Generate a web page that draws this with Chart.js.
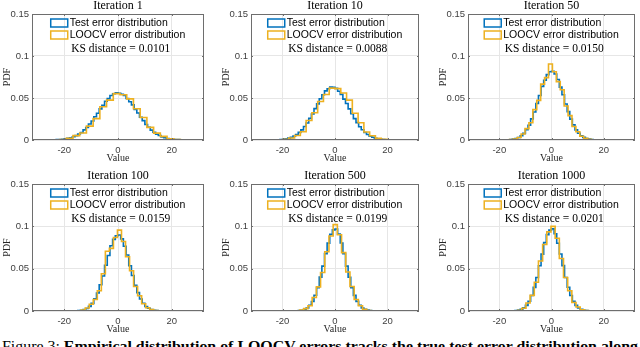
<!DOCTYPE html>
<html>
<head>
<meta charset="utf-8">
<script src="https://cdn.jsdelivr.net/npm/chart.js@4.4.1/dist/chart.umd.min.js"></script>
<style>
body { margin: 0; width: 640px; height: 347px; overflow: hidden; background: #fff; position: relative; }
canvas { position: absolute; }
#caption { position: absolute; left: 2px; top: 340px; font-family: "Liberation Serif", serif; font-size: 14px; line-height: 14px; white-space: nowrap; color: #000; transform-origin: 0 0; }
</style>
</head>
<body>
<canvas id="p1" width="209" height="166" style="left:0px;top:0px"></canvas>
<canvas id="p2" width="205" height="166" style="left:219px;top:0px"></canvas>
<canvas id="p3" width="204" height="166" style="left:436px;top:0px"></canvas>
<canvas id="p4" width="209" height="167" style="left:0px;top:170px"></canvas>
<canvas id="p5" width="205" height="167" style="left:219px;top:170px"></canvas>
<canvas id="p6" width="204" height="167" style="left:436px;top:170px"></canvas>
<div id="caption">Figure 3: <b>Empirical distribution of LOOCV errors tracks the true test error distribution along</b></div>
<script>
const titles = ['Iteration 1', 'Iteration 10', 'Iteration 50', 'Iteration 100', 'Iteration 500', 'Iteration 1000'];
const ksDistances = ['0.0101', '0.0088', '0.0150', '0.0159', '0.0199', '0.0201'];
const seriesNames = ['Test error distribution', 'LOOCV error distribution'];
const xTicks = [-20, 0, 20];
const yTicks = [0, 0.05, 0.1, 0.15];

// first bin edge and bin width of each histogram
const testStart = [-30, -27, -20, -20, -20, -20];
const testWidth = [1, 1, 1, 1, 1, 1];
const loocvStart = [-26.75, -24.2, -17.65, -16.7, -16.7, -16.2];
const loocvWidth = [2.5, 2.2, 1.5, 1.5, 1.6, 1.6];

const testPdf1 = [0, 0, 0.0001, 0.0001, 0.0001, 0.0002, 0.0003, 0.0004, 0.0006, 0.0009,
    0.0013, 0.0020, 0.0027, 0.0039, 0.0052, 0.0071, 0.0090, 0.0121, 0.0149, 0.0190,
    0.0226, 0.0276, 0.0318, 0.0371, 0.0412, 0.0461, 0.0493, 0.0530, 0.0551, 0.0562,
    0.0557, 0.0545, 0.0529, 0.0494, 0.0455, 0.0418, 0.0365, 0.0322, 0.0270, 0.0231,
    0.0185, 0.0152, 0.0117, 0.0093, 0.0069, 0.0053, 0.0037, 0.0027, 0.0018, 0.0013,
    0.0009, 0.0006, 0.0004, 0.0002, 0.0001, 0.0001, 0.0001, 0, 0];
const loocvPdf1 = [0.0001, 0.0002, 0.0005, 0.0019, 0.0052, 0.0083, 0.0165, 0.0255, 0.0395, 0.0475,
    0.0552, 0.0538, 0.0490, 0.0372, 0.0268, 0.0150, 0.0082, 0.0043, 0.0014, 0.0006, 0.0002];

const testPdf2 = [0, 0, 0.0001, 0.0001, 0.0002, 0.0003, 0.0005, 0.0009, 0.0014, 0.0022,
    0.0031, 0.0047, 0.0064, 0.0091, 0.0120, 0.0161, 0.0203, 0.0258, 0.0310, 0.0374,
    0.0430, 0.0491, 0.0538, 0.0585, 0.0611, 0.0630, 0.0628, 0.0615, 0.0580, 0.0543,
    0.0487, 0.0434, 0.0370, 0.0313, 0.0254, 0.0207, 0.0157, 0.0122, 0.0089, 0.0066,
    0.0045, 0.0032, 0.0021, 0.0014, 0.0009, 0.0005, 0.0003, 0.0002, 0.0001, 0.0001, 0];
const loocvPdf2 = [0, 0.0003, 0.0007, 0.0024, 0.0053, 0.0098, 0.0232, 0.0325, 0.0458, 0.0542,
    0.0618, 0.0612, 0.0560, 0.0475, 0.0318, 0.0205, 0.0095, 0.0050, 0.0019, 0.0007, 0.0002, 0];

const testPdf3 = [0, 0.0001, 0.0001, 0.0003, 0.0005, 0.0010, 0.0018, 0.0029, 0.0051, 0.0079,
    0.0124, 0.0176, 0.0252, 0.0333, 0.0435, 0.0530, 0.0638, 0.0712, 0.0778, 0.0812,
    0.0818, 0.0785, 0.0720, 0.0630, 0.0538, 0.0429, 0.0338, 0.0248, 0.0180, 0.0121,
    0.0081, 0.0049, 0.0031, 0.0017, 0.0010, 0.0005, 0.0003, 0.0001, 0.0001, 0, 0, 0];
const loocvPdf3 = [0.0001, 0.0004, 0.0012, 0.0030, 0.0072, 0.0135, 0.0205, 0.0362, 0.0472, 0.0665,
    0.0742, 0.0905, 0.0812, 0.0695, 0.0598, 0.0405, 0.0290, 0.0160, 0.0098, 0.0044,
    0.0021, 0.0008, 0.0002];

const testPdf4 = [0, 0, 0, 0.0001, 0.0002, 0.0004, 0.0009, 0.0018, 0.0030, 0.0055,
    0.0090, 0.0145, 0.0212, 0.0310, 0.0414, 0.0541, 0.0655, 0.0770, 0.0846, 0.0889,
    0.0898, 0.0852, 0.0765, 0.0662, 0.0535, 0.0419, 0.0305, 0.0217, 0.0141, 0.0092,
    0.0053, 0.0032, 0.0017, 0.0009, 0.0004, 0.0002, 0.0001, 0, 0, 0, 0];
const loocvPdf4 = [0, 0.0003, 0.0010, 0.0035, 0.0080, 0.0135, 0.0240, 0.0440, 0.0705, 0.0740,
    0.0868, 0.0955, 0.0820, 0.0640, 0.0475, 0.0290, 0.0180, 0.0085, 0.0038, 0.0018,
    0.0005, 0.0001];

const testPdf5 = [0, 0, 0, 0, 0.0001, 0.0002, 0.0005, 0.0009, 0.0020, 0.0036,
    0.0068, 0.0113, 0.0186, 0.0275, 0.0400, 0.0530, 0.0678, 0.0802, 0.0905, 0.0958,
    0.0968, 0.0910, 0.0803, 0.0678, 0.0530, 0.0399, 0.0276, 0.0185, 0.0114, 0.0068,
    0.0036, 0.0019, 0.0010, 0.0004, 0.0002, 0.0001, 0, 0, 0];
const loocvPdf5 = [0, 0.0002, 0.0010, 0.0028, 0.0062, 0.0160, 0.0285, 0.0455, 0.0700, 0.0885,
    0.1020, 0.0900, 0.0690, 0.0460, 0.0290, 0.0135, 0.0062, 0.0020, 0.0006, 0.0001];

const testPdf6 = [0, 0, 0, 0, 0.0001, 0.0002, 0.0004, 0.0010, 0.0019, 0.0037,
    0.0066, 0.0116, 0.0183, 0.0279, 0.0395, 0.0535, 0.0672, 0.0808, 0.0902, 0.0955,
    0.0970, 0.0912, 0.0800, 0.0673, 0.0536, 0.0396, 0.0280, 0.0183, 0.0116, 0.0067,
    0.0037, 0.0019, 0.0009, 0.0005, 0.0002, 0.0001, 0, 0, 0, 0];
const loocvPdf6 = [0, 0.0003, 0.0008, 0.0032, 0.0095, 0.0185, 0.0340, 0.0590, 0.0785, 0.0935,
    0.1000, 0.0860, 0.0620, 0.0395, 0.0240, 0.0100, 0.0048, 0.0014, 0.0004, 0.0001];

const testPdfs = [testPdf1, testPdf2, testPdf3, testPdf4, testPdf5, testPdf6];
const loocvPdfs = [loocvPdf1, loocvPdf2, loocvPdf3, loocvPdf4, loocvPdf5, loocvPdf6];

const sansFont = '"Liberation Sans", Arial, sans-serif';
const serifFont = '"Liberation Serif", "Times New Roman", serif';

// histogram outline drawn as stairs, like MATLAB DisplayStyle 'stairs'
function stairs(start, width, values) {
    const points = [{ x: start, y: 0 }];
    values.forEach((v, i) => points.push({ x: start + i * width, y: v }));
    points.push({ x: start + values.length * width, y: 0 });
    return points;
}

// LaTeX text is wider than Times, so stretch it to the measured width
function wideText(ctx, text, x, y, targetW) {
    const w = ctx.measureText(text).width;
    ctx.save();
    ctx.translate(x, y);
    ctx.scale(targetW / w, 1);
    ctx.fillText(text, 0, 0);
    ctx.restore();
}

const matlabLook = {
    id: 'matlabLook',
    afterDatasetsDraw(chart) {
        const { ctx, chartArea: a, scales } = chart;
        ctx.save();
        ctx.strokeStyle = '#6e6e6e';
        ctx.lineWidth = 1;
        ctx.strokeRect(a.left + 0.5, a.top + 0.5, a.width - 1, a.height - 1);
        ctx.beginPath();
        xTicks.forEach(v => {
            const px = Math.round(scales.x.getPixelForValue(v)) + 0.5;
            ctx.moveTo(px, a.bottom); ctx.lineTo(px, a.bottom - 2);
            ctx.moveTo(px, a.top); ctx.lineTo(px, a.top + 2);
        });
        yTicks.forEach(v => {
            const py = Math.round(scales.y.getPixelForValue(v)) + 0.5;
            ctx.moveTo(a.left, py); ctx.lineTo(a.left + 2, py);
            ctx.moveTo(a.right, py); ctx.lineTo(a.right - 2, py);
        });
        ctx.stroke();
        ctx.restore();
    },
    afterDraw(chart, args, opts) {
        const { ctx, chartArea: a } = chart;
        const mid = (a.left + a.right) / 2;
        ctx.save();
        ctx.fillStyle = '#000';
        ctx.textAlign = 'center';
        ctx.textBaseline = 'alphabetic';
        ctx.font = '12px ' + serifFont;
        ctx.fillText(opts.title, mid, a.top - 5.5);

        ctx.textBaseline = 'middle';
        ctx.font = '10.5px ' + sansFont;
        const textW = Math.max(...chart.data.datasets.map(d => ctx.measureText(d.label).width));
        const x0 = mid - (19 + textW) / 2;
        ctx.textAlign = 'left';
        chart.data.datasets.forEach((d, i) => {
            const cy = a.top + 9 + i * 12;
            ctx.strokeStyle = d.borderColor;
            ctx.lineWidth = 1.5;
            ctx.strokeRect(x0, cy - 4, 17, 8);
            ctx.fillText(d.label, x0 + 19, cy);
        });
        ctx.font = '11.5px ' + serifFont;
        wideText(ctx, 'KS distance = ' + opts.ks, x0 + 20.5, a.top + 34.5, 99);
        ctx.restore();
    }
};

function makePanel(i) {
    const canvas = document.getElementById('p' + (i + 1));
    return new Chart(canvas, {
        type: 'line',
        data: {
            datasets: [{
                label: seriesNames[0],
                data: stairs(testStart[i], testWidth[i], testPdfs[i]),
                borderColor: '#0072BD',
                borderWidth: 1.6,
                stepped: true,
                pointRadius: 0,
                fill: false,
                order: 2
            }, {
                label: seriesNames[1],
                data: stairs(loocvStart[i], loocvWidth[i], loocvPdfs[i]),
                borderColor: '#EDB120',
                borderWidth: 1.6,
                stepped: true,
                pointRadius: 0,
                fill: false,
                order: 1
            }]
        },
        options: {
            responsive: false,
            animation: false,
            devicePixelRatio: 1,
            layout: { padding: { top: 14, right: 5, left: 0, bottom: 0 } },
            plugins: {
                legend: { display: false },
                tooltip: { enabled: false },
                matlabLook: { title: titles[i], ks: ksDistances[i] }
            },
            scales: {
                x: {
                    type: 'linear',
                    min: -32,
                    max: 32,
                    afterBuildTicks: s => { s.ticks = xTicks.map(v => ({ value: v })); },
                    afterFit: s => { s.height = 26; },
                    grid: { color: '#e6e6e6', drawTicks: false },
                    border: { display: false },
                    ticks: { padding: 5, maxRotation: 0, color: '#404040', font: { family: sansFont, size: 9.5 }, callback: v => String(v) },
                    title: { display: true, text: 'Value', color: '#262626', font: { family: serifFont, size: 10, lineHeight: 1 }, padding: { top: 0, bottom: 3 } }
                },
                y: {
                    type: 'linear',
                    min: 0,
                    max: 0.15,
                    afterBuildTicks: s => { s.ticks = yTicks.map(v => ({ value: v })); },
                    afterFit: s => { s.width = 32; },
                    grid: { color: '#e6e6e6', drawTicks: false },
                    border: { display: false },
                    ticks: { padding: 3, color: '#404040', font: { family: sansFont, size: 9.5 }, callback: v => String(v) },
                    title: { display: true, text: 'PDF', color: '#262626', font: { family: serifFont, size: 10, lineHeight: 1 }, padding: { top: 2, bottom: 0 } }
                }
            }
        },
        plugins: [matlabLook]
    });
}

for (let i = 0; i < titles.length; i++) {
    makePanel(i);
}

const caption = document.getElementById('caption');
const capW = caption.getBoundingClientRect().width;
caption.style.transform = 'scaleX(' + (636 / capW) + ')';
</script>
</body>
</html>
